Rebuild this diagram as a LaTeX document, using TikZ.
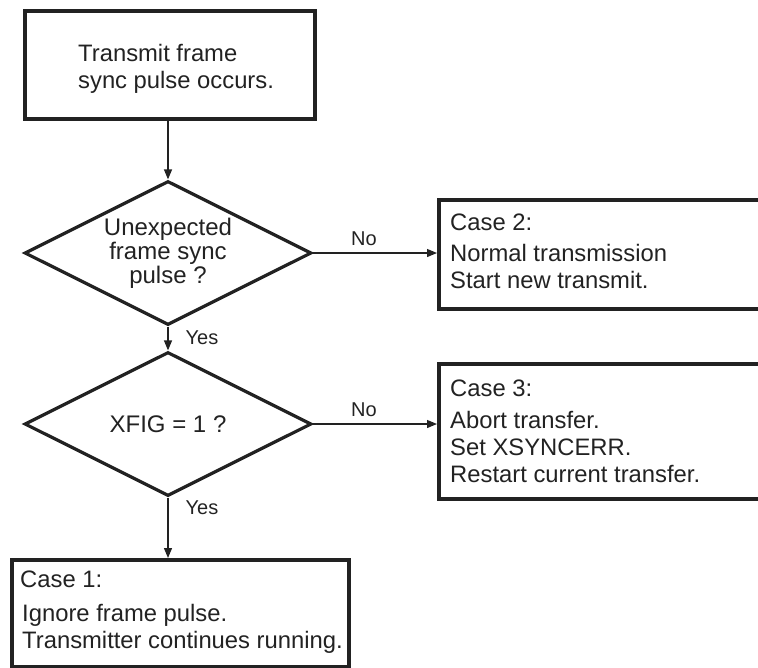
\documentclass[tikz,border=0pt]{standalone}
\usepackage{fontspec}
\setmainfont{Liberation Sans}
\usetikzlibrary{shapes.geometric,arrows.meta}
\definecolor{ink}{HTML}{222222}
\tikzset{
  x=1pt,y=-1pt,
  box/.style={draw=ink,line width=3.6pt,inner sep=0pt,anchor=north west},
  dec/.style={draw=ink,line width=3.2pt,diamond,aspect=2,inner sep=0pt,
              minimum width=287pt,minimum height=144pt,align=center,
              font=\fontsize{24}{24}\selectfont,text=ink},
  txt/.style={align=left,inner sep=0pt,anchor=west,
              font=\fontsize{23.8}{27}\selectfont,text=ink},
  lab/.style={inner sep=0pt,font=\fontsize{20}{22}\selectfont,text=ink},
  conn/.style={draw=ink,line width=1.2pt,-{Triangle[length=10pt,width=8pt]}},
  plain/.style={draw=ink,line width=1.2pt}
}
\begin{document}
\begin{tikzpicture}
\useasboundingbox (0,0) rectangle (758,667);
% boxes
\node[box,minimum width=290pt,minimum height=108pt] (top) at (23,9) {};
\node[txt] (toptxt) at (78,68.5) {Transmit frame\\sync pulse occurs.};
\node[box,minimum width=340pt,minimum height=109pt] (b2) at (437,198) {};
\node[txt] (b2txt) at (450,251.5) {Case 2:\\[4pt]Normal transmission\\Start new transmit.};
\node[box,minimum width=340pt,minimum height=135pt] (b3) at (437,362) {};
\node[txt] (b3txt) at (450,431) {Case 3:\\[5pt]Abort transfer.\\Set XSYNCERR.\\Restart current transfer.};
\node[box,minimum width=337pt,minimum height=107pt] (b1) at (10,558) {};
\node[txt] (b1txt) at (20,612.5) {Case 1:\\[7pt]\hspace{2pt}Ignore frame pulse.\\\hspace{2pt}Transmitter continues running.};
% decisions
\node[dec] (d1) at (168,253) {Unexpected\\frame sync\\pulse ?};
\node[dec] (d2) at (168,424) {XFIG = 1 ?};
% connectors
\draw[conn] (top.south -| d1.north) -- (d1.north);
\draw[conn] (d1.east) -- (d1.east -| b2.west);
\draw[conn] (d1.south) -- (d2.north);
\draw[conn] (d2.east) -- (d2.east -| b3.west);
\draw[conn] (d2.south) -- (d2.south |- b1.north);
% labels
\node[lab] (no1) at (364,239) {No};
\node[lab] (no2) at (364,410) {No};
\node[lab] (yes1) at (202,338) {Yes};
\node[lab] (yes2) at (202,508) {Yes};
\end{tikzpicture}
\end{document}
